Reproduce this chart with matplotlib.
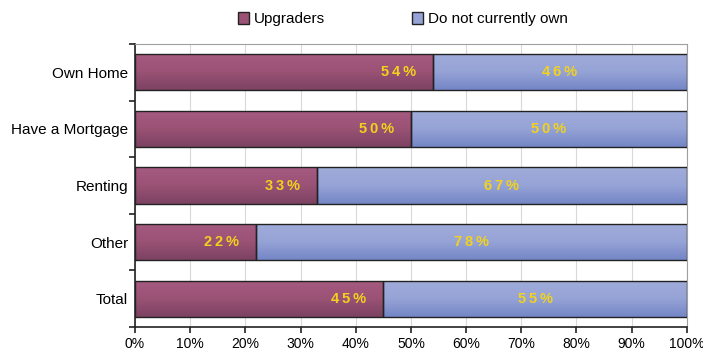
import numpy as np
import matplotlib.pyplot as plt
from matplotlib.colors import LinearSegmentedColormap
from matplotlib.patches import Patch

categories = ["Own Home", "Have a Mortgage", "Renting", "Other", "Total"]
upgraders = [54, 50, 33, 22, 45]
not_own = [46, 50, 67, 78, 55]
label_up = ["54%", "50%", "33%", "22%", "45%"]
label_no = ["46%", "50%", "67%", "78%", "55%"]

plt.rcParams['font.family'] = ['Liberation Sans', 'DejaVu Sans']

fig = plt.figure(figsize=(7.03, 3.5), dpi=100)
ax = fig.add_axes([0.192, 0.066, 0.785, 0.808])

y = np.arange(len(categories))
h = 0.64
cmap_up = LinearSegmentedColormap.from_list("up", ["#a65a80", "#9a5275", "#7c4262"])
cmap_no = LinearSegmentedColormap.from_list("no", ["#a0acd9", "#96a3d6", "#7486c6"])
grad = np.linspace(0, 1, 64).reshape(-1, 1)


def spaced(s):
    # Excel-style letter spacing
    return "\u2009".join(s)


def draw_bar(left, width, yc, cmap):
    bar = ax.barh(yc, width, left=left, height=h, color="none",
                  edgecolor="#222222", linewidth=1.0, zorder=3)[0]
    im = ax.imshow(grad, aspect="auto", cmap=cmap,
                   extent=[left, left + width, yc - h / 2, yc + h / 2],
                   zorder=2, origin="lower")
    im.set_clip_path(bar)


for i in range(len(categories)):
    draw_bar(0, upgraders[i], y[i], cmap_up)
    draw_bar(upgraders[i], not_own[i], y[i], cmap_no)
    ax.text(upgraders[i] - 3.1, y[i], spaced(label_up[i]), ha="right", va="center",
            color="#f2d21c", fontsize=10.5, fontweight="bold", zorder=4)
    ax.text(upgraders[i] + not_own[i] / 2, y[i], spaced(label_no[i]), ha="center",
            va="center", color="#f2d21c", fontsize=10.5, fontweight="bold", zorder=4)

ax.set_xlim(0, 100)
ax.set_ylim(len(categories) - 0.5, -0.5)
ax.set_xticks(np.arange(0, 101, 10))
ax.set_xticklabels([f"{v}%" for v in range(0, 101, 10)], fontsize=10)
ax.set_yticks(y)
ax.set_yticklabels(categories, fontsize=11)
ax.set_yticks(np.arange(-0.5, len(categories), 1), minor=True)
ax.tick_params(axis="y", which="major", length=0, pad=5)
ax.tick_params(axis="y", which="minor", length=4, width=1.2, color="#222222")
ax.tick_params(axis="x", length=4, width=1.2, color="#222222")
ax.xaxis.grid(True, color="#d9d9d9", linewidth=0.8, zorder=0)
ax.set_axisbelow(True)
for s in ["top", "right"]:
    ax.spines[s].set_color("#a0a0a0")
for s in ["left", "bottom"]:
    ax.spines[s].set_color("#222222")
    ax.spines[s].set_linewidth(1.2)

handles = [Patch(facecolor="#9a5275", edgecolor="#222222", label="Upgraders"),
           Patch(facecolor="#96a3d6", edgecolor="#222222", label="Do not currently own")]
fig.legend(handles=handles, loc="center", bbox_to_anchor=(0.573, 0.945), ncol=2,
           frameon=False, fontsize=11, handlelength=0.75, handleheight=0.75,
           handletextpad=0.3, columnspacing=5.7)

fig.savefig("out.png", dpi=100)
